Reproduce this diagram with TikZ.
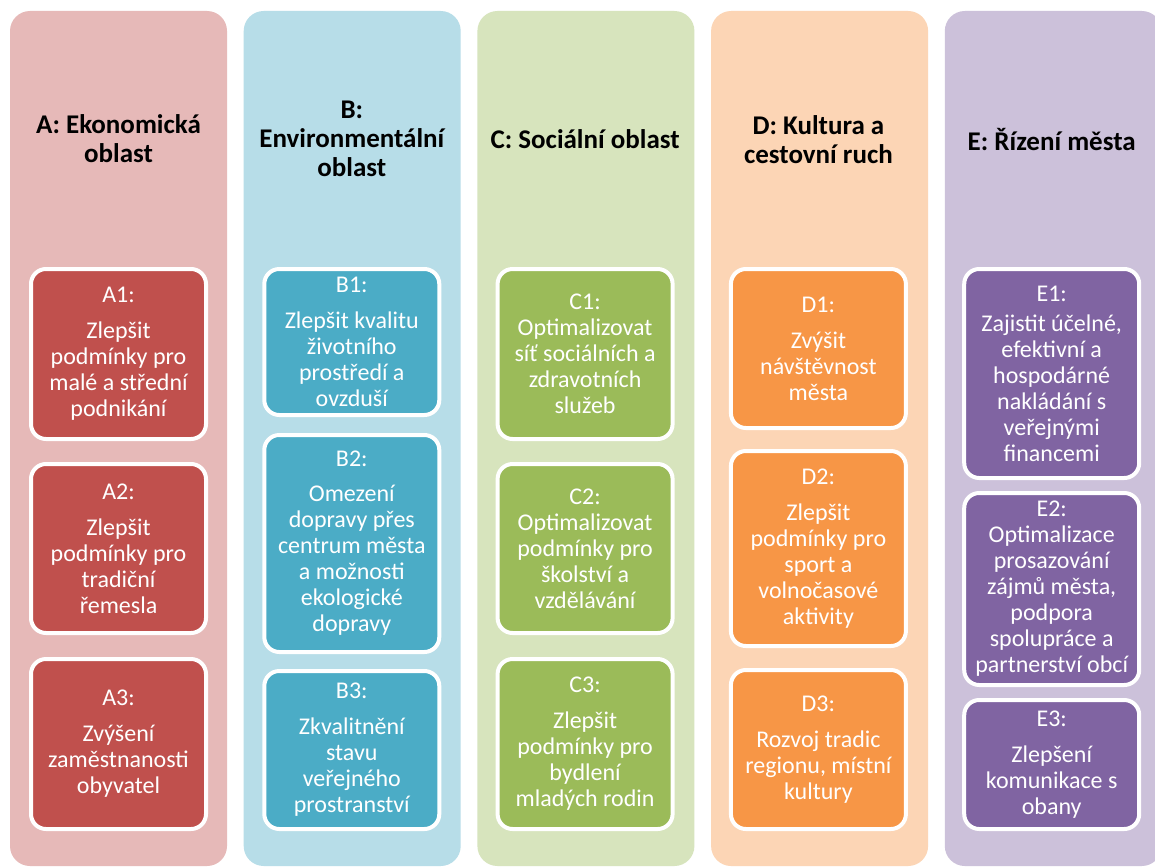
\documentclass[tikz,border=0pt]{standalone}
\usepackage{fontspec}
\setmainfont{Carlito}
\usetikzlibrary{positioning}
\definecolor{ecobg}{HTML}{E6B9B8}
\definecolor{ecobox}{HTML}{C0504D}
\definecolor{envbg}{HTML}{B7DDE8}
\definecolor{envbox}{HTML}{4BACC6}
\definecolor{socbg}{HTML}{D7E4BD}
\definecolor{socbox}{HTML}{9BBB59}
\definecolor{kulbg}{HTML}{FCD5B5}
\definecolor{kulbox}{HTML}{F79646}
\definecolor{rizbg}{HTML}{CCC1DA}
\definecolor{rizbox}{HTML}{8064A2}
\tikzset{
area/.style={minimum width=217pt, minimum height=855pt, rounded corners=20pt, inner sep=0pt}, % background of one column
goal/.style={draw=white, line width=4pt, rounded corners=15pt, minimum width=175pt, inner sep=0pt, align=center, text=white, font=\fontsize{24}{26}\selectfont}, % one goal box
heading/.style={align=center, font=\fontsize{27}{29}\selectfont\bfseries}, % column title
}

\begin{document}
\begin{tikzpicture}[x=1pt, y=-1pt]
\path[use as bounding box, fill=white] (0,0) rectangle (1155,867);
\clip (0,0) rectangle (1155,867);

% columns
\node[area, fill=ecobg] (colA) at (118.5,438.5) {};
\node[area, fill=envbg, right=16.3pt of colA] (colB) {};
\node[area, fill=socbg, right=16.3pt of colB] (colC) {};
\node[area, fill=kulbg, right=16.3pt of colC] (colD) {};
\node[area, fill=rizbg, right=16.3pt of colD] (colE) {};

% titles
\node[heading] (tA) at (118.5,139) {A: Ekonomická\\oblast};
\node[heading] (tB) at (351.8,139) {B:\\Environmentální\\oblast};
\node[heading] (tC) at (585.1,139) {C: Sociální oblast};
\node[heading] (tD) at (818.4,140) {D: Kultura a\\cestovní ruch};
\node[heading] (tE) at (1051.7,139) {E: Řízení města};

% A
\node[goal, fill=ecobox, minimum height=170pt] (A1) at (118.5,354) {A1:\\[10pt]Zlepšit\\podmínky pro\\malé a střední\\podnikání};
\node[goal, fill=ecobox, minimum height=169pt] (A2) at (118.5,548.5) {A2:\\[10pt]Zlepšit\\podmínky pro\\tradiční\\řemesla};
\node[goal, fill=ecobox, minimum height=170pt] (A3) at (118.5,744) {A3:\\[10pt]Zvýšení\\zaměstnanosti\\obyvatel};

% B
\node[goal, fill=envbox, minimum height=146pt] (B1) at (351.8,342) {B1:\\[10pt]Zlepšit kvalitu\\životního\\prostředí a\\ovzduší};
\node[goal, fill=envbox, minimum height=217pt] (B2) at (351.8,543.5) {B2:\\[9pt]Omezení\\dopravy přes\\centrum města\\a možnosti\\ekologické\\dopravy};
\node[goal, fill=envbox, minimum height=158pt] (B3) at (351.8,750) {B3:\\[10pt]Zkvalitnění\\stavu\\veřejného\\prostranství};

% C
\node[goal, fill=socbox, minimum height=170pt] (C1) at (585.1,354) {C1:\\Optimalizovat\\síť sociálních a\\zdravotních\\služeb};
\node[goal, fill=socbox, minimum height=169pt] (C2) at (585.1,548.5) {C2:\\Optimalizovat\\podmínky pro\\školství a\\vzdělávání};
\node[goal, fill=socbox, minimum height=170pt] (C3) at (585.1,744) {C3:\\[10pt]Zlepšit\\podmínky pro\\bydlení\\mladých rodin};

% D
\node[goal, fill=kulbox, minimum height=159pt] (D1) at (818.4,348.5) {D1:\\[10pt]Zvýšit\\návštěvnost\\města};
\node[goal, fill=kulbox, minimum height=195pt] (D2) at (818.4,548.5) {D2:\\[10pt]Zlepšit\\podmínky pro\\sport a\\volnočasové\\aktivity};
\node[goal, fill=kulbox, minimum height=159pt] (D3) at (818.4,749.5) {D3:\\[10pt]Rozvoj tradic\\regionu, místní\\kultury};

% E
\node[goal, fill=rizbox, minimum height=209pt] (E1) at (1051.7,373.5) {E1:\\[4pt]Zajistit účelné,\\efektivní a\\hospodárné\\nakládání s\\veřejnými\\financemi};
\node[goal, fill=rizbox, minimum height=192pt] (E2) at (1051.7,589) {E2:\\Optimalizace\\prosazování\\zájmů města,\\podpora\\spolupráce a\\partnerství obcí};
\node[goal, fill=rizbox, minimum height=129pt] (E3) at (1051.7,764.5) {E3:\\[10pt]Zlepšení\\komunikace s\\obany};
\end{tikzpicture}
\end{document}
